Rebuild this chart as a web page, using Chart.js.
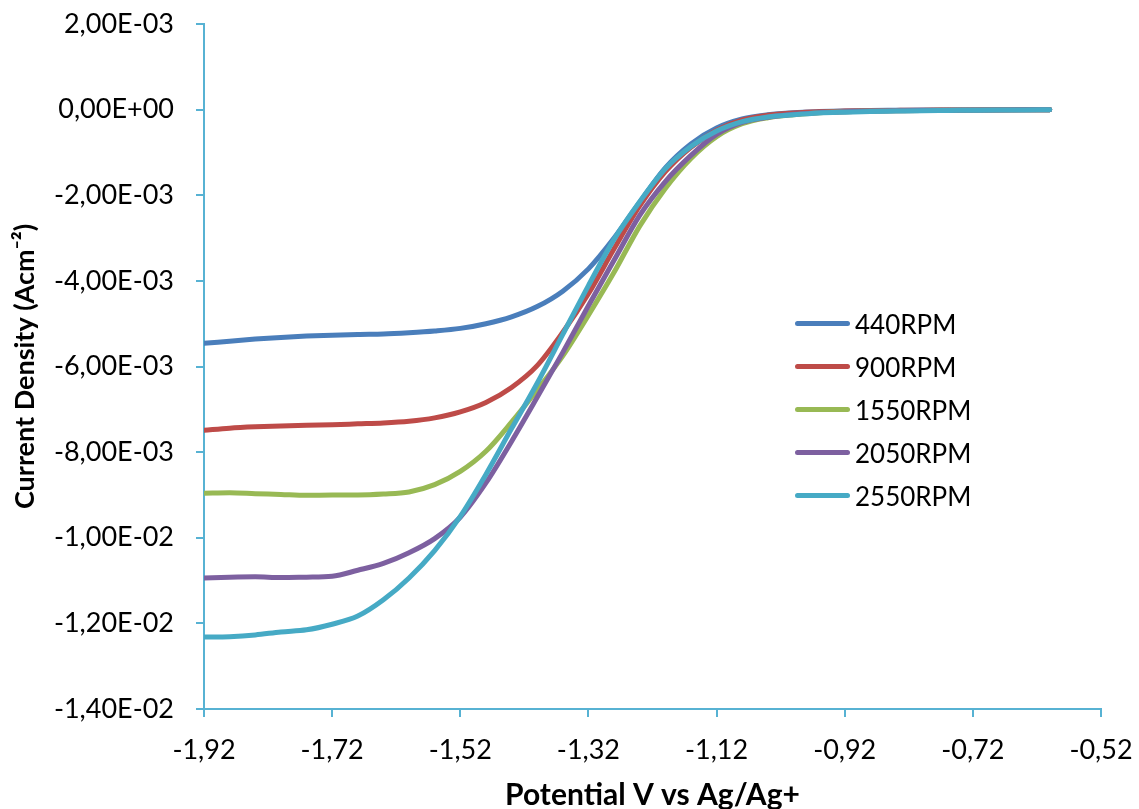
<!DOCTYPE html>
<html>
<head>
<meta charset="utf-8">
<script src="https://cdn.jsdelivr.net/npm/chart.js@4.4.0/dist/chart.umd.min.js"></script>
<style>
  html, body { margin: 0; padding: 0; background: #fff; }
  #wrap { position: relative; width: 1139px; height: 809px; overflow: hidden; }
  #legend { position: absolute; left: 795px; top: 302px; font-family: Lato, "Liberation Sans", sans-serif; font-size: 26px; color: #000; }
  .row { display: flex; align-items: center; height: 43px; }
  .swatch { width: 55px; height: 5px; border-radius: 3px; margin-right: 5px; }
</style>
</head>
<body>
<div id="wrap">
  <canvas id="c" width="1139" height="809"></canvas>
  <div id="legend"></div>
</div>
<script>
// Potential (V vs Ag/Ag+)
const potential = [-1.92,-1.88,-1.84,-1.80,-1.76,-1.72,-1.68,-1.64,-1.60,-1.56,-1.52,-1.48,-1.44,-1.40,-1.36,-1.32,-1.28,-1.24,-1.20,-1.16,-1.12,-1.08,-1.04,-1.00,-0.96,-0.92,-0.88,-0.84,-0.80,-0.76,-0.72,-0.68,-0.64,-0.60];

// Current density (A cm^-2)
const j440 = [-5.46e-3,-5.41e-3,-5.36e-3,-5.32e-3,-5.29e-3,-5.27e-3,-5.25e-3,-5.24e-3,-5.21e-3,-5.17e-3,-5.11e-3,-5.00e-3,-4.84e-3,-4.60e-3,-4.24e-3,-3.72e-3,-3.00e-3,-2.16e-3,-1.36e-3,-0.80e-3,-0.43e-3,-0.22e-3,-0.12e-3,-0.07e-3,-0.045e-3,-0.03e-3,-0.02e-3,-0.015e-3,-0.01e-3,-0.008e-3,-0.006e-3,-0.004e-3,-0.003e-3,-0.002e-3];
const j900 = [-7.49e-3,-7.44e-3,-7.41e-3,-7.39e-3,-7.37e-3,-7.36e-3,-7.34e-3,-7.32e-3,-7.28e-3,-7.20e-3,-7.06e-3,-6.84e-3,-6.49e-3,-5.98e-3,-5.20e-3,-4.30e-3,-3.25e-3,-2.25e-3,-1.45e-3,-0.88e-3,-0.48e-3,-0.24e-3,-0.13e-3,-0.08e-3,-0.05e-3,-0.035e-3,-0.025e-3,-0.018e-3,-0.012e-3,-0.009e-3,-0.006e-3,-0.004e-3,-0.003e-3,-0.002e-3];
const j1550 = [-8.96e-3,-8.95e-3,-8.97e-3,-8.99e-3,-9.01e-3,-9.00e-3,-9.00e-3,-8.98e-3,-8.93e-3,-8.76e-3,-8.45e-3,-7.98e-3,-7.30e-3,-6.55e-3,-5.75e-3,-4.80e-3,-3.80e-3,-2.72e-3,-1.84e-3,-1.14e-3,-0.63e-3,-0.33e-3,-0.19e-3,-0.12e-3,-0.075e-3,-0.05e-3,-0.035e-3,-0.025e-3,-0.018e-3,-0.013e-3,-0.009e-3,-0.006e-3,-0.004e-3,-0.003e-3];
const j2050 = [-10.94e-3,-10.92e-3,-10.91e-3,-10.93e-3,-10.92e-3,-10.90e-3,-10.76e-3,-10.60e-3,-10.35e-3,-10.02e-3,-9.52e-3,-8.72e-3,-7.75e-3,-6.72e-3,-5.67e-3,-4.58e-3,-3.52e-3,-2.47e-3,-1.68e-3,-1.07e-3,-0.58e-3,-0.30e-3,-0.18e-3,-0.11e-3,-0.07e-3,-0.05e-3,-0.035e-3,-0.025e-3,-0.018e-3,-0.013e-3,-0.009e-3,-0.006e-3,-0.004e-3,-0.003e-3];
const j2550 = [-12.32e-3,-12.31e-3,-12.27e-3,-12.20e-3,-12.15e-3,-12.02e-3,-11.83e-3,-11.45e-3,-10.94e-3,-10.30e-3,-9.50e-3,-8.52e-3,-7.45e-3,-6.39e-3,-5.25e-3,-4.11e-3,-3.03e-3,-2.15e-3,-1.38e-3,-0.86e-3,-0.50e-3,-0.28e-3,-0.17e-3,-0.12e-3,-0.08e-3,-0.06e-3,-0.045e-3,-0.035e-3,-0.025e-3,-0.02e-3,-0.015e-3,-0.01e-3,-0.007e-3,-0.005e-3];

const seriesNames = ['440RPM','900RPM','1550RPM','2050RPM','2550RPM'];
const seriesValues = [j440, j900, j1550, j2050, j2550];
const seriesColors = ['#4A7EBB','#BE4B48','#98B954','#7D60A0','#46AAC5'];

const xTickValues = [-1.92,-1.72,-1.52,-1.32,-1.12,-0.92,-0.72,-0.52];
const yTickValues = [0.002,0,-0.002,-0.004,-0.006,-0.008,-0.010,-0.012,-0.014];

const axisColor = '#57B2D3';
const FONT = 'Lato, "Liberation Sans", sans-serif';

function sciLabel(v) {
  if (Math.abs(v) < 1e-12) v = 0;
  const s = v.toExponential(2);
  const parts = s.split('e');
  const sign = parts[1][0] === '-' ? '-' : '+';
  let d = parts[1].replace(/[+-]/, '');
  if (d.length < 2) d = '0' + d;
  return parts[0].replace('.', ',') + 'E' + sign + d;
}

const datasets = seriesNames.map((name, i) => ({
  label: name,
  data: potential.map((x, k) => ({ x: x, y: seriesValues[i][k] })),
  borderColor: seriesColors[i],
  backgroundColor: seriesColors[i],
  borderWidth: 5,
  pointRadius: 0,
  cubicInterpolationMode: 'monotone',
  borderCapStyle: 'round',
  borderJoinStyle: 'round',
  fill: false,
  order: seriesNames.length - 1 - i
}));

new Chart(document.getElementById('c'), {
  type: 'line',
  data: { datasets: datasets },
  options: {
    responsive: false,
    animation: false,
    devicePixelRatio: 1,
    layout: { padding: { top: 24, right: 38, left: 0, bottom: 0 } },
    plugins: { legend: { display: false }, tooltip: { enabled: false } },
    scales: {
      x: {
        type: 'linear',
        min: -1.92,
        max: -0.52,
        afterBuildTicks: (s) => { s.ticks = xTickValues.map(v => ({ value: v })); },
        afterFit: (s) => { s.height = 100; s.paddingLeft = 0; s.paddingRight = 0; },
        border: { display: true, color: axisColor, width: 2 },
        grid: { display: true, drawOnChartArea: false, drawTicks: true, tickLength: 8, color: axisColor, lineWidth: 2 },
        ticks: {
          color: '#000',
          font: { family: FONT, size: 27 },
          padding: 17,
          maxRotation: 0,
          autoSkip: false,
          callback: (v) => v.toFixed(2).replace('.', ',')
        },
        title: {
          display: true,
          text: 'Potential V vs Ag/Ag+',
          color: '#000',
          font: { family: FONT, size: 30, weight: 'bold', lineHeight: 0.9 },
          padding: { top: 0, bottom: 0 }
        }
      },
      y: {
        type: 'linear',
        min: -0.014,
        max: 0.002,
        afterBuildTicks: (s) => { s.ticks = yTickValues.map(v => ({ value: v })); },
        afterFit: (s) => { s.width = 204; s.paddingTop = 0; s.paddingBottom = 0; },
        border: { display: true, color: axisColor, width: 2 },
        grid: { display: true, drawOnChartArea: false, drawTicks: true, tickLength: 8, color: axisColor, lineWidth: 2 },
        ticks: {
          color: '#000',
          font: { family: FONT, size: 27 },
          padding: 22,
          autoSkip: false,
          callback: (v) => sciLabel(v)
        },
        title: {
          display: true,
          text: 'Current Density (Acm⁻²)',
          color: '#000',
          font: { family: FONT, size: 27, weight: 'bold', lineHeight: 1.2 },
          padding: { top: 9, bottom: 0 }
        }
      }
    }
  }
});

// HTML legend built from the series arrays
const legend = document.getElementById('legend');
seriesNames.forEach((name, i) => {
  const row = document.createElement('div');
  row.className = 'row';
  const sw = document.createElement('div');
  sw.className = 'swatch';
  sw.style.background = seriesColors[i];
  const tx = document.createElement('span');
  tx.textContent = name;
  row.appendChild(sw);
  row.appendChild(tx);
  legend.appendChild(row);
});
</script>
</body>
</html>
